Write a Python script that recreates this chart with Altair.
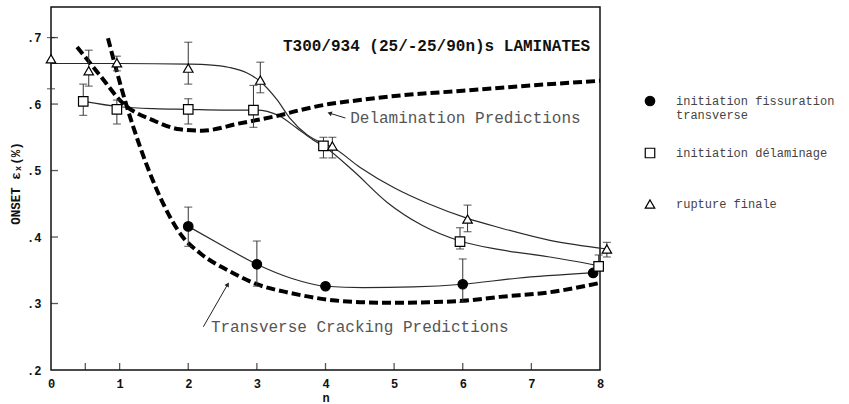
import altair as alt
import pandas as pd

# ---------------- measured points (n, strain %, error bar low/high) ----------------
fiss_n = [2, 3, 4, 6, 7.9]
fiss_y = [0.416, 0.359, 0.326, 0.329, 0.346]
fiss_lo = [0.386, 0.326, None, 0.302, None]
fiss_hi = [0.445, 0.394, None, 0.367, None]

dela_n = [0.47, 0.96, 2, 2.95, 3.97, 5.96, 7.98]
dela_y = [0.604, 0.592, 0.592, 0.591, 0.537, 0.393, 0.356]
dela_lo = [0.583, 0.570, 0.570, 0.565, 0.519, 0.382, 0.350]
dela_hi = [0.630, 0.606, 0.608, 0.628, 0.550, 0.414, 0.373]

rupt_n = [0, 0.55, 0.96, 2, 3.05, 4.1, 6.07, 8.1]
rupt_y = [0.668, 0.650, 0.662, 0.654, 0.636, 0.537, 0.427, 0.382]
rupt_lo = [0.623, 0.627, 0.650, 0.630, 0.617, 0.519, 0.408, 0.370]
rupt_hi = [0.700, 0.681, 0.672, 0.693, 0.663, 0.550, 0.448, 0.392]

series_names = ["initiation fissuration transverse", "initiation délaminage", "rupture finale"]

# ---------------- hand-drawn fit curves ----------------
fit_fiss_n = [2, 2.5, 3, 3.5, 4, 4.55, 5.28, 6, 6.79, 7.86]
fit_fiss_y = [0.416, 0.387, 0.359, 0.338, 0.326, 0.324, 0.325, 0.329, 0.338, 0.346]

fit_dela_n = [0.47, 1, 1.5, 2, 2.5, 3, 3.15, 3.33, 3.58, 3.82, 3.97, 4.4, 4.9, 5.4, 5.96, 6.54, 7.27, 7.98]
fit_dela_y = [0.604, 0.596, 0.593, 0.592, 0.591, 0.591, 0.589, 0.582, 0.564, 0.546, 0.537, 0.500, 0.452, 0.418, 0.394, 0.381, 0.370, 0.357]

fit_rupt_n = [0, 1, 2, 2.3, 2.6, 2.85, 3.05, 3.29, 3.48, 3.73, 3.96, 4.1, 4.5, 5.0, 5.5, 6.07, 6.54, 7.27, 8.1]
fit_rupt_y = [0.661, 0.661, 0.660, 0.659, 0.655, 0.647, 0.634, 0.607, 0.579, 0.554, 0.541, 0.535, 0.505, 0.474, 0.450, 0.428, 0.414, 0.395, 0.382]

# ---------------- prediction curves (dashed) ----------------
pred_dela_n = [0.38, 0.7, 1.05, 1.5, 1.88, 2.2, 2.75, 3.0, 3.33, 3.63, 4.05, 4.5, 5.09, 6.0, 7.0, 8.0]
pred_dela_y = [0.686, 0.645, 0.601, 0.575, 0.562, 0.560, 0.571, 0.576, 0.583, 0.591, 0.600, 0.606, 0.613, 0.620, 0.628, 0.635]

pred_tran_n = [0.83, 1.1, 1.3, 1.59, 1.92, 2.17, 2.65, 3.0, 3.48, 4.1, 4.5, 5.0, 5.5, 6.0, 6.54, 7.27, 8.0]
pred_tran_y = [0.699, 0.598, 0.535, 0.460, 0.400, 0.376, 0.346, 0.329, 0.316, 0.305, 0.302, 0.301, 0.302, 0.304, 0.310, 0.317, 0.331]

# ---------------- annotations ----------------
title_text = "T300/934 (25/-25/90n)s LAMINATES"
title_n, title_y = 3.38, 0.687
note_texts = ["Delamination Predictions", "Transverse Cracking Predictions"]
note_n = [4.36, 2.33]
note_y = [0.579, 0.2647]
arrow_n0 = [4.29, 2.22]
arrow_y0 = [0.579, 0.265]
arrow_n1 = [4.07, 2.57]
arrow_y1 = [0.586, 0.328]
arrow_angle = [288, 30]

# ---------------- axes ----------------
x_labels = [0, 1, 2, 3, 4, 5, 6, 7, 8]
x_ticks = [0.5, 1, 2, 3, 4, 5, 6, 7]
y_labels = [0.2, 0.3, 0.4, 0.5, 0.6, 0.7]
y_ticks = [0.3, 0.4, 0.5, 0.6, 0.7]

W, H = 549, 363
MONO = "Liberation Mono"

# ---------------- tables ----------------
pts = pd.concat([
    pd.DataFrame({"n": fiss_n, "y": fiss_y, "lo": fiss_lo, "hi": fiss_hi, "s": series_names[0]}),
    pd.DataFrame({"n": dela_n, "y": dela_y, "lo": dela_lo, "hi": dela_hi, "s": series_names[1]}),
    pd.DataFrame({"n": rupt_n, "y": rupt_y, "lo": rupt_lo, "hi": rupt_hi, "s": series_names[2]}),
], ignore_index=True)
errs = pts.dropna(subset=["lo", "hi"])

fits = pd.concat([
    pd.DataFrame({"n": fit_fiss_n, "y": fit_fiss_y, "s": "f"}),
    pd.DataFrame({"n": fit_dela_n, "y": fit_dela_y, "s": "d"}),
    pd.DataFrame({"n": fit_rupt_n, "y": fit_rupt_y, "s": "r"}),
], ignore_index=True)

preds = pd.concat([
    pd.DataFrame({"n": pred_dela_n, "y": pred_dela_y, "s": "d"}),
    pd.DataFrame({"n": pred_tran_n, "y": pred_tran_y, "s": "t"}),
], ignore_index=True)

notes = pd.DataFrame({"n": note_n, "y": note_y, "t": note_texts})
title_df = pd.DataFrame({"n": [title_n], "y": [title_y], "t": [title_text]})
arrows = pd.DataFrame({"n": arrow_n0, "y": arrow_y0, "n2": arrow_n1, "y2": arrow_y1, "a": arrow_angle})
xt = pd.DataFrame({"v": x_ticks})
yt = pd.DataFrame({"v": y_ticks})

xscale = alt.Scale(domain=[0, 8], nice=False, zero=False)
yscale = alt.Scale(domain=[0.2, 0.746], nice=False, zero=False)

xaxis = alt.Axis(title="n", values=x_labels, format="d", ticks=False, tickSize=0, domain=False,
                 grid=False, labelPadding=8, labelFlush=False, labelOverlap=False,
                 labelFont=MONO, labelFontWeight="bold", labelFontSize=12, labelColor="#111",
                 titleFont=MONO, titleFontWeight="bold", titleFontSize=12, titleColor="#111",
                 titleY=34, titleBaseline="bottom")
yaxis = alt.Axis(title="ONSET εₓ(%)", values=y_labels,
                 labelExpr="replace(format(datum.value, '.1f'), '0.', '.')",
                 ticks=False, tickSize=0, domain=False, grid=False, labelPadding=10,
                 labelFlush=False, labelOverlap=False,
                 labelFont=MONO, labelFontWeight="bold", labelFontSize=12, labelColor="#111",
                 titleFont=MONO, titleFontWeight="bold", titleFontSize=12.5, titleColor="#111",
                 titleX=-36, titleY=176, titleAngle=270, titleAlign="center", titleBaseline="middle")


def X(f="n"):
    return alt.X(f"{f}:Q", scale=xscale, axis=xaxis)


def Y(f="y"):
    return alt.Y(f"{f}:Q", scale=yscale, axis=yaxis)


legend = alt.Legend(
    title=None, orient="none", legendX=593, legendY=88, padding=0, rowPadding=24,
    symbolSize=90, symbolStrokeColor="black", symbolStrokeWidth=1.2,
    labelFont=MONO, labelFontSize=12, labelColor="#444", labelOffset=20, labelLimit=400,
    labelExpr="datum.label == 'initiation fissuration transverse' ? ['initiation fissuration', 'transverse'] : [datum.label, '']",
)

fit_layer = alt.Chart(fits).mark_line(interpolate="monotone", color="#2a2a2a", strokeWidth=1.2).encode(
    x=X(), y=Y(), detail="s:N")

pred_layer = alt.Chart(preds).mark_line(interpolate="monotone", color="black", strokeWidth=4,
                                        strokeDash=[9, 4]).encode(x=X(), y=Y(), detail="s:N")

err_rule = alt.Chart(errs).mark_rule(color="#333", strokeWidth=1).encode(
    x=X(), y=Y("lo"), y2="hi:Q")
err_top = alt.Chart(errs).mark_tick(color="#333", orient="horizontal", size=8, thickness=1.2).encode(
    x=X(), y=Y("hi"))
err_bot = alt.Chart(errs).mark_tick(color="#333", orient="horizontal", size=8, thickness=1.2).encode(
    x=X(), y=Y("lo"))

point_layer = alt.Chart(pts).mark_point(opacity=1, size=90, strokeWidth=1.2).encode(
    x=X(), y=Y(),
    shape=alt.Shape("s:N", scale=alt.Scale(domain=series_names, range=["circle", "square", "triangle-up"]),
                    legend=legend),
    fill=alt.Fill("s:N", scale=alt.Scale(domain=series_names, range=["black", "white", "white"]),
                  legend=legend),
    stroke=alt.Stroke("s:N", scale=alt.Scale(domain=series_names, range=["black", "black", "black"]),
                      legend=legend),
)

title_layer = alt.Chart(title_df).mark_text(align="left", baseline="middle", font=MONO, fontSize=16,
                                           fontWeight="bold", color="#111").encode(
    x=X(), y=Y(), text="t:N")
notes_layer = alt.Chart(notes).mark_text(align="left", baseline="middle", font=MONO, fontSize=16,
                                         color="#555").encode(x=X(), y=Y(), text="t:N")
arrow_line = alt.Chart(arrows).mark_rule(color="#222", strokeWidth=1).encode(
    x=X(), y=Y(), x2="n2:Q", y2="y2:Q")
arrow_head = alt.Chart(arrows).mark_point(shape="triangle", filled=True, size=25, color="#222",
                                          opacity=1).encode(
    x=X("n2"), y=Y("y2"), angle=alt.Angle("a:Q", scale=None))

xtick_layer = alt.Chart(xt).mark_tick(orient="vertical", size=7, thickness=1.3, color="#111",
                                      yOffset=-3.5).encode(x=X("v"), y=alt.value(H))
ytick_layer = alt.Chart(yt).mark_tick(orient="horizontal", size=7, thickness=1.3, color="#111",
                                      xOffset=3.5).encode(y=Y("v"), x=alt.value(0))

chart = alt.layer(
    fit_layer, pred_layer, err_rule, err_top, err_bot, point_layer,
    title_layer, notes_layer, arrow_line, arrow_head, xtick_layer, ytick_layer,
).properties(
    width=W, height=H,
    autosize=alt.AutoSizeParams(type="none"),
    padding={"left": 51, "top": 7, "right": 249, "bottom": 34},
    background="white",
).configure_view(stroke="#111", strokeWidth=1.5)

chart.save("out.html", embed_options={"renderer": "svg", "actions": False})
